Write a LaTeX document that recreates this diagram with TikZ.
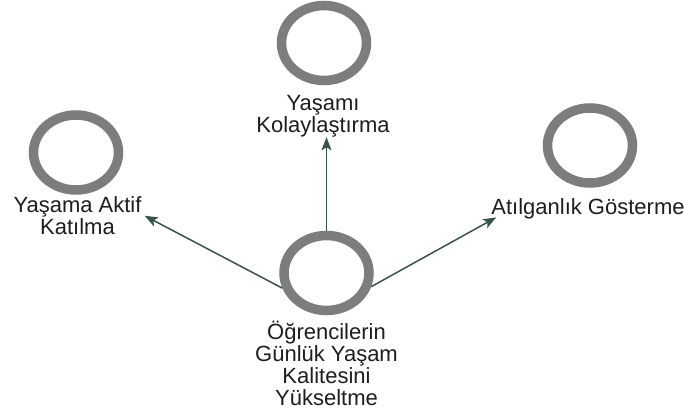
\documentclass[tikz,border=0pt]{standalone}
\usepackage{fontspec}
\setmainfont{Liberation Sans}
\usetikzlibrary{shapes.geometric,arrows.meta,calc}

\definecolor{ringgray}{RGB}{125,125,125}
\definecolor{arrowslate}{RGB}{58,82,78}
\definecolor{labeltext}{RGB}{30,30,30}

\tikzset{
  ring/.style={ellipse, draw=ringgray, line width=9.5pt, fill=white,
               minimum width=85pt, minimum height=75pt, inner sep=0pt},
  lbl/.style={align=center, inner sep=0pt, text=labeltext,
              font=\fontsize{22}{22}\selectfont},
  link/.style={draw=arrowslate, line width=1.5pt,
               -{Stealth[length=13pt,width=10pt,inset=3pt]}}
}

\begin{document}
\begin{tikzpicture}[x=1pt,y=-1pt]
  \fill[white] (0,0) rectangle (685,410);
  \useasboundingbox (0,0) rectangle (685,410);

  % circles
  \node[ring] (cMain)  at (326.5,273) {};
  \node[ring] (cTop)   at (324,43) {};
  \node[ring] (cLeft)  at (76,152.5) {};
  \node[ring] (cRight) at (590,145.5) {};

  % labels
  \node[lbl, anchor=north] (lMain)  at (326.5,321) {Öğrencilerin\\Günlük Yaşam\\Kalitesini\\Yükseltme};
  \node[lbl, anchor=north] (lTop)   at (323,95)    {Yaşamı\\Kolaylaştırma};
  \node[lbl, anchor=north] (lLeft)  at (77.5,196)  {Yaşama Aktif\\Katılma};
  \node[lbl, anchor=north] (lRight) at (588,198)   {Atılganlık Gösterme};

  % connectors from the central goal
  \draw[link] (cMain.north) -- (cMain.north |- lTop.south);
  \draw[link] (cMain.199) -- ($(lLeft.east)+(3,0.5)$);
  \draw[link] (cMain.343) -- ($(lRight.south west)+(5,-1.5)$);
\end{tikzpicture}
\end{document}
